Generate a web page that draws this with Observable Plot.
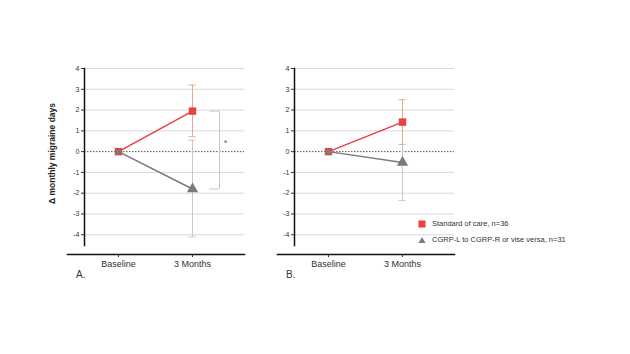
<!DOCTYPE html>
<html><head><meta charset="utf-8">
<script src="https://cdn.jsdelivr.net/npm/d3@7"></script>
<script src="https://cdn.jsdelivr.net/npm/@observablehq/plot@0.6"></script>
<style>
body{margin:0;background:#fff;font-family:"Liberation Sans",Arial,sans-serif}
#wrap{position:relative;width:630px;height:354px;overflow:hidden;background:#fff}
.panel{position:absolute;top:0}
.plabel{position:absolute;font-size:10px;color:#333;top:269px}
.legend{position:absolute;left:417px;top:216px;font-size:7.5px;color:#333;line-height:16px}
.legend div{display:flex;align-items:center;white-space:nowrap}
.legend svg{margin-right:5px}
</style></head><body><div id="wrap"></div><script>
const timepoints = ["Baseline", "3 Months"];
const groupNames = ["Standard of care, n=36", "CGRP-L to CGRP-R or vise versa, n=31"];
const yTicks = [-4, -3, -2, -1, 0, 1, 2, 3, 4];
const yLabel = "\u0394 monthly migraine days";
const panelLabels = ["A.", "B."];

// Panel A
const aSocMean = [0, 1.95];
const aSocLo = [0, 0.72];
const aSocHi = [0, 3.2];
const aCgrpMean = [0, -1.8];
const aCgrpLo = [0, -4.1];
const aCgrpHi = [0, 0.55];
// Panel B
const bSocMean = [0, 1.42];
const bSocLo = [0, 0.35];
const bSocHi = [0, 2.5];
const bCgrpMean = [0, -0.52];
const bCgrpLo = [0, -2.35];
const bCgrpHi = [0, 1.3];

const RED = "#e8423f", RED_ERR = "#eaa898", GRAY = "#7a7a7a", GRAY_ERR = "#c9c9c9";

function rows(mean, lo, hi) {
  return timepoints.map((t, i) => ({time: t, mean: mean[i], lo: lo[i], hi: hi[i]}));
}

function errMarks(data, color) {
  const e = data.filter(d => d.hi !== d.lo);
  return [
    Plot.ruleX(e, {x: "time", y1: "lo", y2: "hi", stroke: color, strokeWidth: 1}),
    Plot.ruleY(e, {x1: "time", x2: "time", y: "lo", insetLeft: -3.5, insetRight: -3.5, stroke: color, strokeWidth: 1}),
    Plot.ruleY(e, {x1: "time", x2: "time", y: "hi", insetLeft: -3.5, insetRight: -3.5, stroke: color, strokeWidth: 1})
  ];
}

function panel(soc, cgrp, showLabel, bracket) {
  const marks = [
    Plot.gridY(yTicks.filter(d => d !== 0), {stroke: "#dadada", strokeOpacity: 1}),
    Plot.ruleY([0], {stroke: "#555", strokeDasharray: "1.5,1.5"}),
    Plot.frame({anchor: "left", insetBottom: 9, stroke: "#111", strokeWidth: 1.5}),
    Plot.frame({anchor: "bottom", insetLeft: -17, stroke: "#111", strokeWidth: 1.5}),
    Plot.axisY({ticks: yTicks, tickSize: 3, tickPadding: 2, fontSize: 7, label: null, tickFormat: d => String(d).replace("\u2212", "-")}),
    Plot.axisX({tickSize: 3, tickPadding: 3, fontSize: 9, label: null}),
    ...errMarks(cgrp, GRAY_ERR),
    ...errMarks(soc, RED_ERR),
    Plot.line(cgrp, {x: "time", y: "mean", stroke: GRAY, strokeWidth: 1.5}),
    Plot.line(soc, {x: "time", y: "mean", stroke: RED, strokeWidth: 1.5}),
    Plot.dot(soc, {x: "time", y: "mean", symbol: "square", r: 4.2, fill: RED}),
    Plot.dot(cgrp.filter(d => d.mean !== 0), {x: "time", y: "mean", symbol: "triangle", r: 4.2, fill: GRAY}),
    Plot.dot(cgrp.filter(d => d.mean === 0), {x: "time", y: "mean", symbol: "square", r: 3, fill: GRAY})
  ];
  if (showLabel) {
    marks.push(Plot.text([yLabel], {text: d => d, frameAnchor: "left", textAnchor: "middle", rotate: -90, dx: -32, dy: -8, fontSize: 8.5, fontWeight: "bold", fill: "#222"}));
  }
  if (bracket) {
    const s = soc[1], c = cgrp[1];
    marks.push(
      Plot.ruleX([s], {x: "time", y1: s.mean, y2: c.mean, dx: 27, stroke: "#c8c8c8"}),
      Plot.ruleY([s, c], {x1: "time", x2: "time", y: "mean", insetLeft: 17, insetRight: -27, stroke: "#c8c8c8"}),
      Plot.text([s], {x: "time", y: (s.mean + c.mean) / 2 + 0.35, text: () => "*", dx: 33, fontSize: 9, fill: "#666"})
    );
  }
  return Plot.plot({
    width: 250, height: 300,
    marginLeft: 84, marginRight: 6, marginTop: 68, marginBottom: 46,
    style: {fontFamily: "'Liberation Sans', Arial, sans-serif", color: "#333", background: "transparent"},
    x: {type: "point", domain: timepoints, padding: 0.567, align: 0.4},
    y: {domain: [-4.95, 4]},
    marks
  });
}

const wrap = document.getElementById("wrap");
const pa = panel(rows(aSocMean, aSocLo, aSocHi), rows(aCgrpMean, aCgrpLo, aCgrpHi), true, true);
pa.classList.add("panel"); pa.style.left = "0px";
wrap.appendChild(pa);
const pb = panel(rows(bSocMean, bSocLo, bSocHi), rows(bCgrpMean, bCgrpLo, bCgrpHi), false, false);
pb.classList.add("panel"); pb.style.left = "210px";
wrap.appendChild(pb);

[[76, panelLabels[0]], [286, panelLabels[1]]].forEach(([x, t]) => {
  const d = document.createElement("div");
  d.className = "plabel"; d.style.left = x + "px"; d.textContent = t;
  wrap.appendChild(d);
});

const lg = document.createElement("div");
lg.className = "legend";
lg.innerHTML =
  `<div><svg width="10" height="10"><rect x="1.5" y="1.5" width="7" height="7" fill="${RED}"/></svg>${groupNames[0]}</div>` +
  `<div><svg width="10" height="10"><path d="M5,2 L8.5,8 L1.5,8 Z" fill="${GRAY}"/></svg>${groupNames[1]}</div>`;
wrap.appendChild(lg);
</script></body></html>
